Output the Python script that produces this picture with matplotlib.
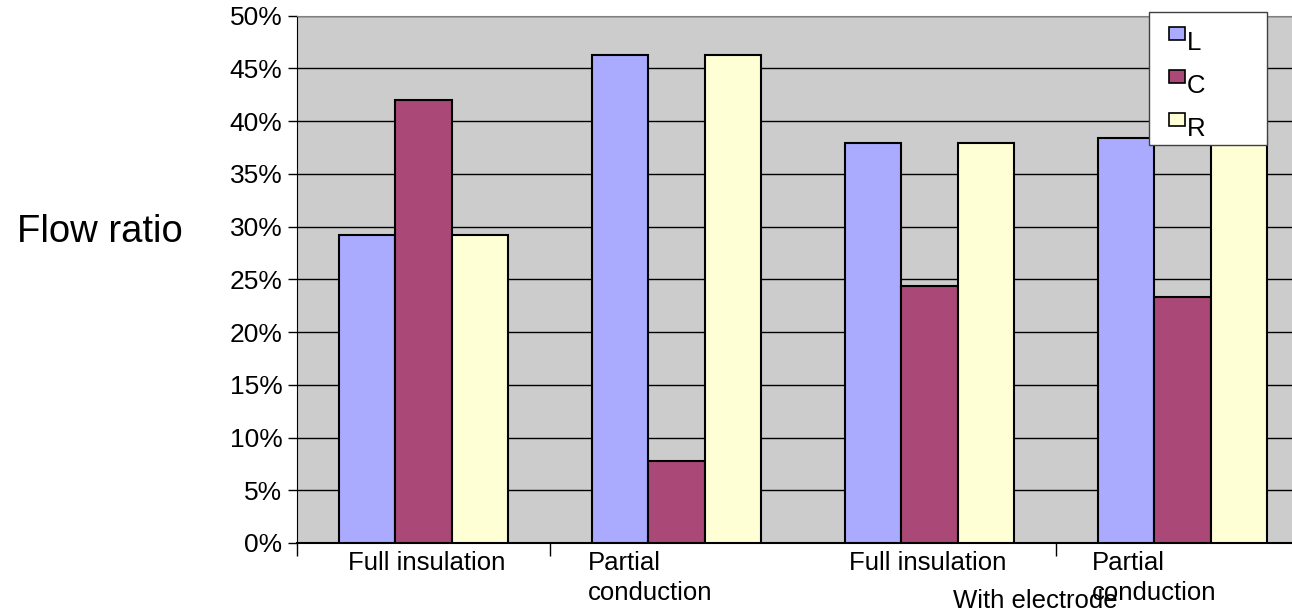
import matplotlib
matplotlib.use("Agg")
import matplotlib.pyplot as plt
from matplotlib.patches import Rectangle
from matplotlib.ticker import FuncFormatter, FixedLocator
import numpy as np

plt.rcParams['font.family'] = ['Liberation Sans', 'DejaVu Sans']

# data
categories = ["Full insulation", "Partial\nconduction", "Full insulation", "Partial\nconduction"]
series_names = ["L", "C", "R"]
L_vals = [0.292, 0.463, 0.379, 0.384]
C_vals = [0.420, 0.078, 0.244, 0.233]
R_vals = [0.292, 0.463, 0.379, 0.384]
colors = ["#AAAAFF", "#AA4878", "#FFFFD6"]

W, H = 1292, 613
fig = plt.figure(figsize=(W / 100, H / 100), dpi=100)

# axes extends past the right edge like the reference (clipped chart)
left_px, right_px, top_px, bot_px = 297, 1309, 15.7, 543
ax = fig.add_axes([left_px / W, 1 - bot_px / H, (right_px - left_px) / W, (bot_px - top_px) / H])
ax.set_facecolor("#CCCCCC")

bw = 1 / 4.5
x = np.arange(len(categories)) + 0.5
for j, vals in enumerate([L_vals, C_vals, R_vals]):
    ax.bar(x + (j - 1) * bw, vals, width=bw, color=colors[j], edgecolor="black",
           linewidth=1.5, zorder=3)

ax.set_xlim(0, 4)
ax.set_ylim(0, 0.5)
ax.set_yticks(np.arange(0, 0.501, 0.05))
ax.yaxis.set_major_formatter(FuncFormatter(lambda v, p: f"{v * 100:.0f}%"))
ax.yaxis.grid(True, color="black", linewidth=1.0, zorder=1)
ax.set_axisbelow(True)
ax.tick_params(axis="y", direction="out", length=6.5, width=1, pad=4, labelsize=19)

ax.xaxis.set_major_locator(FixedLocator([0, 1, 3]))
ax.set_xticklabels([])
ax.tick_params(axis="x", direction="out", length=9, width=1)

for s in ["top", "right"]:
    ax.spines[s].set_color("#808080")
ax.spines["left"].set_color("black")
ax.spines["bottom"].set_color("black")
ax.spines["bottom"].set_linewidth(1.5)

# category labels
tr = ax.get_xaxis_transform()
label_x = [0.20, 1.15, 2.18, 3.14]
for lx, lab in zip(label_x, categories):
    ax.text(lx, -0.016, lab, transform=tr, ha="left", va="top", fontsize=18.5,
            linespacing=1.3)
ax.text(2.92, -0.110, "With electrode", transform=tr, ha="center", va="center",
        fontsize=18.5)

fig.text(100 / W, 1 - 232 / H, "Flow ratio", ha="center", va="center", fontsize=27.5)

# legend box drawn by hand
lx0, lx1, ly0, ly1 = 1149, 1267, 12, 145
fig.patches.append(Rectangle((lx0 / W, 1 - ly1 / H), (lx1 - lx0) / W, (ly1 - ly0) / H,
                             transform=fig.transFigure, facecolor="white",
                             edgecolor="#404040", linewidth=1, zorder=5))
for k, (name, c) in enumerate(zip(series_names, colors)):
    cy = 34 + k * 43
    fig.patches.append(Rectangle((1169 / W, 1 - (cy + 6) / H), 16 / W, 13 / H,
                                 transform=fig.transFigure, facecolor=c,
                                 edgecolor="black", linewidth=1.2, zorder=6))
    fig.text(1187 / W, 1 - (cy + 9) / H, name, ha="left", va="center",
             fontsize=18.5, zorder=7)

fig.savefig("out.png", dpi=100)
